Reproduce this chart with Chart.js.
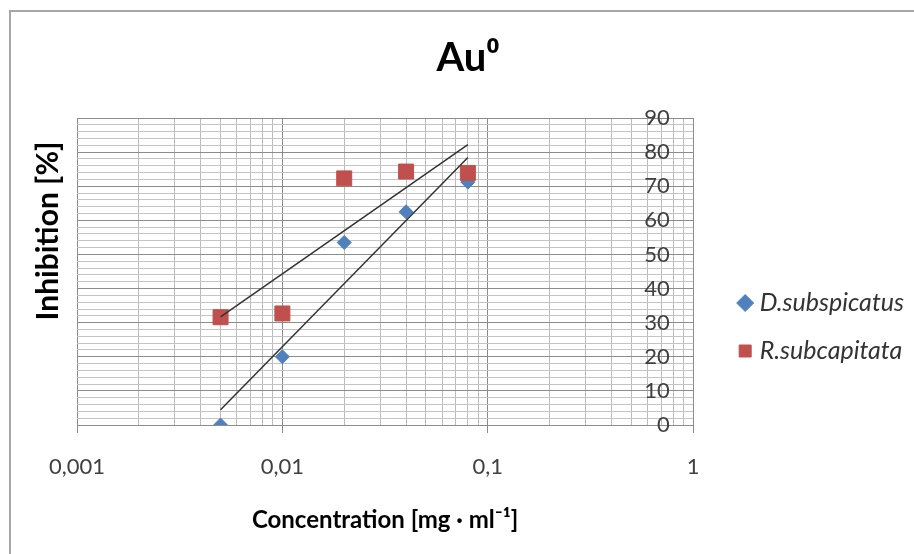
<!DOCTYPE html>
<html>
<head>
<meta charset="utf-8">
<script src="https://cdn.jsdelivr.net/npm/chart.js@4.4.1/dist/chart.umd.min.js"></script>
<style>
  html, body { margin: 0; padding: 0; background: #fff; overflow: hidden; }
  #wrap { position: relative; width: 914px; height: 554px; }
  #frame { position: absolute; left: 9px; top: 10px; width: 960px; height: 600px;
           border-left: 2px solid #a6a6a6; border-top: 2px solid #a6a6a6; pointer-events: none; }
</style>
</head>
<body>
<div id="wrap">
  <canvas id="auChart" width="914" height="554"></canvas>
  <div id="frame"></div>
</div>
<script>
// values
const concentrations = [0.005, 0.01, 0.02, 0.04, 0.08];
const dSubspicatus = [0, 20, 53.5, 62.5, 71.2];
const rSubcapitata = [31.6, 32.7, 72.3, 74.3, 73.9];
const seriesNames = ['D.subspicatus', 'R.subcapitata'];
const seriesColors = ['#4f81bd', '#c0504d'];
const xDecades = [0.001, 0.01, 0.1, 1];

const toPoints = ys => concentrations.map((c, i) => ({ x: c, y: ys[i] }));

// Excel-style logarithmic trendline (least squares on log10 x)
function logTrend(ys) {
    const lx = concentrations.map(Math.log10);
    const n = lx.length;
    const mx = lx.reduce((a, b) => a + b) / n;
    const my = ys.reduce((a, b) => a + b) / n;
    let sxy = 0, sxx = 0;
    lx.forEach((v, i) => { sxy += (v - mx) * (ys[i] - my); sxx += (v - mx) * (v - mx); });
    const slope = sxy / sxx;
    const icpt = my - slope * mx;
    return [concentrations[0], concentrations[n - 1]].map(c => ({ x: c, y: icpt + slope * Math.log10(c) }));
}

const isDecade = v => xDecades.some(d => Math.abs(d - v) < d * 1e-6);

Chart.defaults.font.family = 'Lato';

const ctx = document.getElementById('auChart').getContext('2d');
const auChart = new Chart(ctx, {
    type: 'scatter',
    data: {
        datasets: [{
            label: seriesNames[0],
            data: toPoints(dSubspicatus),
            pointStyle: 'rectRot',
            pointRadius: 7,
            backgroundColor: seriesColors[0],
            borderColor: seriesColors[0],
            borderWidth: 1,
            order: 2
        }, {
            label: seriesNames[1],
            data: toPoints(rSubcapitata),
            pointStyle: 'rect',
            pointRadius: 10.6,
            backgroundColor: seriesColors[1],
            borderColor: seriesColors[1],
            borderWidth: 1,
            order: 1
        }, {
            data: logTrend(dSubspicatus),
            showLine: true,
            borderColor: '#333333',
            borderWidth: 1.5,
            pointRadius: 0,
            order: 0
        }, {
            data: logTrend(rSubcapitata),
            showLine: true,
            borderColor: '#333333',
            borderWidth: 1.5,
            pointRadius: 0,
            order: 0
        }]
    },
    options: {
        responsive: false,
        animation: false,
        devicePixelRatio: 1,
        layout: { padding: { left: 22, right: 0, top: 0, bottom: 0 } },
        scales: {
            x: {
                type: 'logarithmic',
                position: 'bottom',
                min: 0.001,
                max: 1,
                afterBuildTicks: axis => {
                    const ticks = [];
                    xDecades.slice(0, -1).forEach(d => {
                        for (let m = 1; m <= 9; m++) ticks.push({ value: parseFloat((m * d).toPrecision(3)) });
                    });
                    ticks.push({ value: xDecades[xDecades.length - 1] });
                    axis.ticks = ticks;
                },
                ticks: {
                    autoSkip: false,
                    maxRotation: 0,
                    padding: 20.8,
                    color: '#404040',
                    font: { size: 22 },
                    callback: v => isDecade(v) ? String(v).replace('.', ',') : ''
                },
                grid: {
                    color: c => (c.tick && isDecade(c.tick.value)) ? '#8c8c8c' : '#bcbcbc',
                    tickColor: c => (c.tick && isDecade(c.tick.value)) ? '#8c8c8c' : 'rgba(0,0,0,0)',
                    tickLength: 8
                },
                border: { color: '#8c8c8c' },
                title: {
                    display: true,
                    text: 'Concentration [mg · ml⁻¹]',
                    color: '#000',
                    font: { size: 24, weight: 'bold' },
                    padding: { top: 4.6, bottom: 19.6 }
                }
            },
            y: {
                position: { x: 0.77 },
                min: 0,
                max: 90,
                ticks: {
                    stepSize: 2,
                    autoSkip: false,
                    padding: 0,
                    color: '#404040',
                    font: { size: 22 },
                    callback: v => v % 10 === 0 ? v : ''
                },
                grid: {
                    color: c => (c.tick && c.tick.value % 10 === 0) ? '#8c8c8c' : '#c4c4c4',
                    drawTicks: false
                },
                border: { display: false }
            },
            yt: {
                position: 'left',
                stack: 'left',
                stackWeight: 0.736,
                weight: 1,
                display: true,
                ticks: { display: false },
                grid: { display: false, drawTicks: false },
                border: { display: false },
                title: {
                    display: true,
                    text: 'Inhibition [%]',
                    color: '#000',
                    font: { size: 30, weight: 'bold' },
                    padding: { top: 8, bottom: 11 }
                }
            },
            yb: {
                position: 'left',
                stack: 'left',
                stackWeight: 0.264,
                weight: 0,
                display: false
            },
            yr: {
                position: 'right',
                display: true,
                afterFit: s => { s.width = 27; },
                ticks: { display: false },
                grid: { display: false, drawTicks: false },
                border: { display: false }
            }
        },
        plugins: {
            title: {
                display: true,
                text: 'Au⁰',
                color: '#000',
                font: { size: 40, weight: 'bold' },
                padding: { top: 34, bottom: 36 }
            },
            legend: {
                position: 'right',
                align: 'start',
                maxWidth: 195,
                title: { display: true, text: '', padding: { top: 253.1, bottom: 0 } },
                labels: {
                    usePointStyle: true,
                    boxWidth: 4,
                    boxHeight: 12,
                    padding: 23,
                    color: '#333',
                    font: { size: 25, style: 'italic' },
                    filter: item => item.datasetIndex < 2,
                    sort: (a, b) => a.datasetIndex - b.datasetIndex
                }
            },
            tooltip: { enabled: false }
        }
    }
});
</script>
</body>
</html>
